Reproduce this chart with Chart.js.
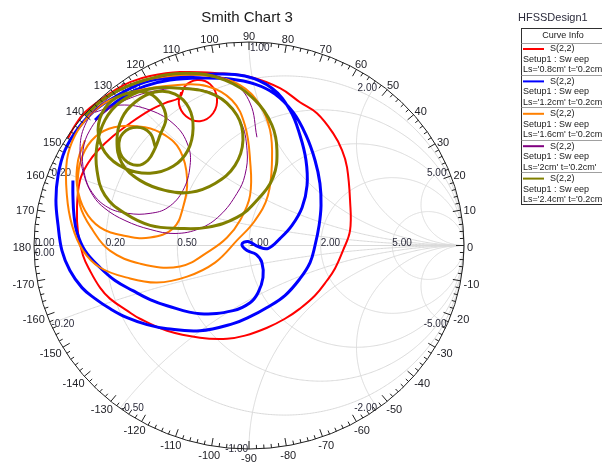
<!DOCTYPE html>
<html>
<head>
<meta charset="utf-8">
<script src="https://cdn.jsdelivr.net/npm/chart.js@4"></script>
<style>
  html, body { margin: 0; padding: 0; background: #ffffff; }
  canvas { display: block; }
</style>
</head>
<body>
<canvas id="smith" width="602" height="463"></canvas>
<script>
// Reflection coefficient S(2,2) traces, [Re, Im] pairs, one sweep per stub length Ls
const s22_Ls08 = [
  [-0.842,0.527],[-0.809,0.591],[-0.763,0.655],[-0.693,0.714],[-0.623,0.764],[-0.553,0.803],[-0.460,0.833],
  [-0.321,0.852],[-0.149,0.847],[0.005,0.828],[0.144,0.773],[0.237,0.704],[0.316,0.650],[0.391,0.552],
  [0.433,0.468],[0.456,0.384],[0.470,0.222],[0.470,0.074],[0.437,-0.025],[0.400,-0.113],[0.363,-0.172],
  [0.307,-0.246],[0.237,-0.310],[0.167,-0.360],[0.084,-0.404],[-0.019,-0.443],[-0.102,-0.458],[-0.228,-0.453],
  [-0.381,-0.419],[-0.507,-0.360],[-0.567,-0.320],[-0.647,-0.261],[-0.693,-0.207],[-0.740,-0.123],[-0.772,-0.049],
  [-0.795,0.059],[-0.800,0.187],[-0.786,0.320],[-0.749,0.404],[-0.702,0.468],[-0.633,0.537],[-0.553,0.601],
  [-0.460,0.665],[-0.391,0.700],[-0.321,0.729],[-0.298,0.783],[-0.242,0.813],[-0.181,0.793],[-0.149,0.724],
  [-0.167,0.650],[-0.228,0.611],[-0.293,0.635],[-0.326,0.695],[-0.316,0.754]
];
const s22_Ls12 = [
  [-0.819,0.320],[-0.819,0.246],[-0.814,0.148],[-0.800,0.064],[-0.763,-0.025],[-0.693,-0.108],[-0.623,-0.172],
  [-0.540,-0.222],[-0.460,-0.266],[-0.381,-0.296],[-0.228,-0.335],[-0.074,-0.320],[0.005,-0.281],[0.042,-0.232],
  [0.065,-0.158],[0.060,-0.084],[0.033,-0.044],[-0.009,-0.025],[-0.033,0.005],[-0.005,0.020],[0.042,-0.005],
  [0.088,-0.015],[0.144,0.034],[0.200,0.099],[0.247,0.187],[0.270,0.296],[0.265,0.419],[0.237,0.542],
  [0.191,0.665],[0.107,0.773],[-0.019,0.833],[-0.181,0.842],[-0.344,0.828],[-0.484,0.803],[-0.609,0.739],
  [-0.716,0.665],[-0.795,0.576],[-0.856,0.468],[-0.888,0.345],[-0.898,0.222],[-0.888,0.099],[-0.870,-0.025],
  [-0.833,-0.123],[-0.777,-0.207],[-0.716,-0.261],[-0.647,-0.310],[-0.567,-0.355],[-0.474,-0.389],[-0.381,-0.409],
  [-0.228,-0.419],[-0.074,-0.384],[0.005,-0.350],[0.084,-0.305],[0.167,-0.246],[0.237,-0.163],[0.284,-0.084],
  [0.307,0.000],[0.326,0.099],[0.335,0.197],[0.330,0.305],[0.307,0.419],[0.265,0.542],[0.205,0.655],
  [0.121,0.744],[0.028,0.793],[-0.088,0.818],[-0.228,0.823],[-0.367,0.813],[-0.484,0.783],[-0.577,0.734],
  [-0.656,0.675],[-0.716,0.616]
];
const s22_Ls16 = [
  [-0.716,0.690],[-0.553,0.788],[-0.367,0.833],[-0.181,0.833],[-0.042,0.788],[0.051,0.690],[0.098,0.567],
  [0.107,0.419],[0.088,0.246],[0.028,0.123],[-0.056,0.025],[-0.158,-0.084],[-0.288,-0.153],[-0.428,-0.182],
  [-0.567,-0.158],[-0.693,-0.108],[-0.772,-0.025],[-0.823,0.099],[-0.847,0.246],[-0.847,0.419],[-0.809,0.542],
  [-0.740,0.640],[-0.647,0.714],[-0.507,0.764],[-0.344,0.788],[-0.195,0.783],[-0.079,0.714],[-0.019,0.591],
  [0.005,0.419],[0.005,0.246],[-0.042,0.123],[-0.102,0.039],[-0.181,-0.025],[-0.321,-0.103],[-0.507,-0.089],
  [-0.647,-0.025],[-0.726,0.074],[-0.786,0.197],[-0.795,0.345],[-0.763,0.468],[-0.693,0.552],[-0.600,0.586],
  [-0.484,0.581],[-0.391,0.542],[-0.321,0.468],[-0.288,0.330],[-0.307,0.187],[-0.353,0.084],[-0.460,0.039],
  [-0.586,0.049],[-0.693,0.089],[-0.763,0.172],[-0.800,0.296],[-0.795,0.419],[-0.763,0.517]
];
const s22_Ls20 = [
  [-0.716,0.655],[-0.600,0.690],[-0.460,0.665],[-0.344,0.591],[-0.284,0.493],[-0.274,0.394],[-0.307,0.271],
  [-0.377,0.187],[-0.460,0.158],[-0.563,0.158],[-0.656,0.187],[-0.730,0.261],[-0.767,0.360],[-0.772,0.468],
  [-0.740,0.567],[-0.670,0.655],[-0.553,0.724],[-0.414,0.764],[-0.274,0.773],[-0.135,0.729],[-0.042,0.616],
  [-0.009,0.468],[-0.019,0.345],[-0.056,0.256],[-0.135,0.148],[-0.228,0.084],[-0.344,0.059],[-0.460,0.079],
  [-0.577,0.123],[-0.670,0.182],[-0.726,0.246],[-0.767,0.345],[-0.786,0.468],[-0.763,0.591],[-0.693,0.690],
  [-0.577,0.773],[-0.414,0.828],[-0.228,0.847],[-0.074,0.798],[0.005,0.700],[0.037,0.532]
];
const s22_Ls24 = [
  [-0.763,0.640],[-0.647,0.739],[-0.484,0.813],[-0.293,0.847],[-0.112,0.813],[0.028,0.714],[0.107,0.591],
  [0.130,0.468],[0.112,0.335],[0.037,0.222],[-0.056,0.138],[-0.195,0.089],[-0.321,0.084],[-0.460,0.099],
  [-0.577,0.158],[-0.670,0.246],[-0.707,0.369],[-0.707,0.493],[-0.670,0.616],[-0.600,0.704],[-0.484,0.764],
  [-0.321,0.773],[-0.158,0.739],[-0.056,0.640],[-0.028,0.517],[-0.065,0.394],[-0.158,0.305],[-0.274,0.261],
  [-0.391,0.271],[-0.507,0.320],[-0.591,0.404],[-0.614,0.517],[-0.591,0.626],[-0.530,0.704],[-0.437,0.754],
  [-0.344,0.744],[-0.279,0.675],[-0.260,0.576],[-0.284,0.468],[-0.353,0.389],[-0.460,0.355],[-0.577,0.379],
  [-0.670,0.458],[-0.702,0.567],[-0.670,0.675],[-0.591,0.739],[-0.484,0.754],[-0.414,0.704],[-0.386,0.626],
  [-0.414,0.542],[-0.437,0.478],[-0.470,0.419],[-0.521,0.394],[-0.581,0.424],[-0.605,0.488],[-0.586,0.552],
  [-0.521,0.581],[-0.460,0.552],[-0.437,0.488]
];

const curveLabels = ["Ls='0.8cm' t='0.2cm'", "Ls='1.2cm' t='0.2cm'", "Ls='1.6cm' t='0.2cm'", "Ls='2cm' t='0.2cm'", "Ls='2.4cm' t='0.2cm'"];
const curveColors = ['#ff0000', '#0000ff', '#ff8000', '#800080', '#808000'];
const curveWidths = [2, 3, 2, 1, 3];

// Smith grid values
const resistanceCircles = [0.2, 0.5, 1, 2, 5];
const resistanceLabels = ['0.20', '0.50', '1.00', '2.00', '5.00'];
const reactanceArcs = [0.2, 0.5, 1, 2, 5];
const reactanceLabels = ['0.20', '0.50', '1.00', '2.00', '5.00'];
const angleLabels = [0, 10, 20, 30, 40, 50, 60, 70, 80, 90, 100, 110, 120, 130, 140, 150, 160, 170, 180,
  -170, -160, -150, -140, -130, -120, -110, -100, -90, -80, -70, -60, -50, -40, -30, -20, -10];

const FONT = '"Liberation Sans", Arial, sans-serif';

const toPoints = arr => arr.map(([re, im]) => ({ x: re, y: im }));
const traces = [s22_Ls08, s22_Ls12, s22_Ls16, s22_Ls20, s22_Ls24];

const smithGrid = {
  id: 'smithGrid',
  beforeDatasetsDraw(chart) {
    const { ctx, scales: { x, y } } = chart;
    const P = (u, v) => [x.getPixelForValue(u), y.getPixelForValue(v)];
    ctx.save();
    ctx.strokeStyle = '#d9d9d9';
    ctx.lineWidth = 1;

    // real axis
    ctx.beginPath();
    let a = P(-1, 0), b = P(1, 0);
    ctx.moveTo(a[0], a[1]); ctx.lineTo(b[0], b[1]);
    ctx.stroke();

    // constant resistance circles
    resistanceCircles.forEach(r => {
      const c = r / (1 + r), R = 1 / (1 + r);
      ctx.beginPath();
      for (let i = 0; i <= 720; i++) {
        const t = i * Math.PI / 360;
        const [px, py] = P(c + R * Math.cos(t), R * Math.sin(t));
        if (i === 0) ctx.moveTo(px, py); else ctx.lineTo(px, py);
      }
      ctx.stroke();
    });

    // constant reactance arcs, clipped to |Gamma| <= 1
    reactanceArcs.forEach(xv => [xv, -xv].forEach(s => {
      const R = 1 / Math.abs(s), cv = 1 / s;
      const bu = (s * s - 1) / (s * s + 1), bv = 2 * s / (s * s + 1);
      const t0 = Math.atan2(0 - cv, 0);
      const t1 = Math.atan2(bv - cv, bu - 1);
      let d = t1 - t0;
      while (d > Math.PI) d -= 2 * Math.PI;
      while (d < -Math.PI) d += 2 * Math.PI;
      const tm = t0 + d / 2;
      const um = 1 + R * Math.cos(tm), vm = cv + R * Math.sin(tm);
      if (um * um + vm * vm > 1) d = d > 0 ? d - 2 * Math.PI : d + 2 * Math.PI;
      ctx.beginPath();
      const n = 300;
      for (let i = 0; i <= n; i++) {
        const t = t0 + d * i / n;
        const [px, py] = P(1 + R * Math.cos(t), cv + R * Math.sin(t));
        if (i === 0) ctx.moveTo(px, py); else ctx.lineTo(px, py);
      }
      ctx.stroke();
    }));

    // grid value labels
    ctx.fillStyle = '#2b2b3b';
    ctx.font = '10px ' + FONT;
    ctx.textBaseline = 'alphabetic';
    ctx.textAlign = 'left';
    const o = P(-1, 0);
    ctx.fillText('0.00', o[0] + 1, o[1] + 0.5);
    ctx.textBaseline = 'top';
    ctx.fillText('0.00', o[0] + 1, o[1] + 3);
    ctx.textBaseline = 'alphabetic';
    resistanceCircles.forEach((r, i) => {
      const [px, py] = P((r - 1) / (r + 1), 0);
      ctx.fillText(resistanceLabels[i], px, py + 0.5);
    });
    ctx.textBaseline = 'middle';
    reactanceArcs.forEach((xv, i) => [xv, -xv].forEach(s => {
      const bu = (s * s - 1) / (s * s + 1), bv = 2 * s / (s * s + 1);
      const [px, py] = P(bu, bv);
      const txt = (s < 0 ? '-' : '') + reactanceLabels[i];
      let left;
      if (Math.abs(bu) < 1e-6) left = s > 0; else left = bu < 0;
      ctx.textAlign = left ? 'left' : 'right';
      ctx.fillText(txt, px + (left ? 1 : -1), s > 0 ? py + 6 : py);
    }));
    ctx.restore();
  },
  afterDatasetsDraw(chart) {
    const { ctx, scales: { x, y } } = chart;
    const cx = x.getPixelForValue(0), cy = y.getPixelForValue(0);
    const rx = x.getPixelForValue(1) - cx, ry = cy - y.getPixelForValue(1);
    ctx.save();
    // boundary |Gamma| = 1
    ctx.strokeStyle = '#202020';
    ctx.lineWidth = 1;
    ctx.beginPath();
    ctx.ellipse(cx, cy, rx, ry, 0, 0, 2 * Math.PI);
    ctx.stroke();
    // angle ticks every 2 degrees, longer every 10
    ctx.beginPath();
    for (let deg = 0; deg < 360; deg += 2) {
      const t = deg * Math.PI / 180;
      const len = deg % 10 === 0 ? 8 : 4;
      const c = Math.cos(t), s = Math.sin(t);
      ctx.moveTo(cx + rx * c, cy - ry * s);
      ctx.lineTo(cx + (rx - len) * c, cy - (ry - len) * s);
    }
    ctx.stroke();
    // angle labels
    ctx.fillStyle = '#222228';
    ctx.font = '11px ' + FONT;
    ctx.textAlign = 'center';
    ctx.textBaseline = 'middle';
    angleLabels.forEach(deg => {
      const t = deg * Math.PI / 180;
      const c = Math.cos(t), s = Math.sin(t);
      const w = ctx.measureText(String(deg)).width;
      const px = cx + (rx + 3) * c + (w / 2) * c;
      const py = cy - (ry + 2) * s - 5.5 * s + 2.5;
      ctx.fillText(String(deg), px, py);
    });
    ctx.restore();
  },
  afterDraw(chart) {
    const { ctx } = chart;
    ctx.save();
    ctx.fillStyle = '#1a1a1a';
    ctx.textBaseline = 'middle';
    ctx.textAlign = 'center';
    ctx.font = '15px ' + FONT;
    ctx.fillText('Smith Chart 3', 247, 18);
    ctx.textAlign = 'left';
    ctx.font = '11px ' + FONT;
    ctx.fillStyle = '#2b2b3b';
    ctx.fillText('HFSSDesign1', 518, 18);

    // curve info box
    const bx = 521.5, by = 28.5, bw = 100, rowH = 32.4, headH = 14;
    ctx.strokeStyle = '#303030';
    ctx.lineWidth = 1;
    ctx.strokeRect(bx, by, bw, headH + rowH * curveLabels.length);
    ctx.font = '9px ' + FONT;
    ctx.fillStyle = '#1a1a1a';
    ctx.textAlign = 'center';
    ctx.fillText('Curve Info', 563, by + 7);
    ctx.strokeStyle = '#a0a0a0';
    curveLabels.forEach((lab, i) => {
      const top = by + headH + rowH * i;
      ctx.beginPath();
      ctx.moveTo(bx, Math.round(top) + 0.5);
      ctx.lineTo(bx + bw, Math.round(top) + 0.5);
      ctx.stroke();
      ctx.save();
      ctx.strokeStyle = curveColors[i];
      ctx.lineWidth = 2;
      ctx.beginPath();
      ctx.moveTo(523, top + 6.5);
      ctx.lineTo(544, top + 6.5);
      ctx.stroke();
      ctx.restore();
      ctx.textAlign = 'left';
      ctx.fillStyle = '#1a1a1a';
      ctx.fillText('S(2,2)', 550, top + 6.5);
      ctx.fillText('Setup1 : Sw eep', 523, top + 17);
      ctx.fillText(lab, 523, top + 27.5);
    });
    ctx.restore();
  }
};

const datasets = traces.map((tr, i) => ({
  label: 'S(2,2) ' + curveLabels[i],
  data: toPoints(tr),
  showLine: true,
  borderColor: curveColors[i],
  backgroundColor: curveColors[i],
  borderWidth: curveWidths[i],
  pointRadius: 0,
  tension: 0.4,
  fill: false,
  order: traces.length - i
}));

new Chart(document.getElementById('smith'), {
  type: 'scatter',
  data: { datasets },
  options: {
    responsive: false,
    devicePixelRatio: 1,
    animation: false,
    layout: { padding: { left: 34, right: 138, top: 42, bottom: 14 } },
    scales: {
      x: { type: 'linear', min: -1, max: 1, display: false },
      y: { type: 'linear', min: -1, max: 1, display: false }
    },
    plugins: { legend: { display: false }, tooltip: { enabled: false } }
  },
  plugins: [smithGrid]
});
</script>
</body>
</html>
